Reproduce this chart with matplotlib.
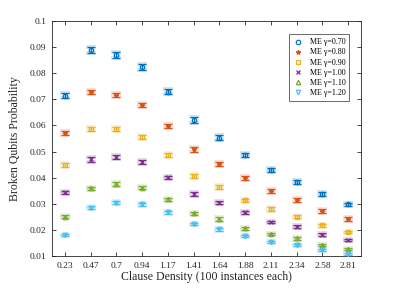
import matplotlib
matplotlib.use("Agg")
import matplotlib.pyplot as plt
from matplotlib.lines import Line2D
import numpy as np

plt.rcParams['font.family'] = ['Liberation Serif', 'DejaVu Serif']
plt.rcParams['mathtext.fontset'] = 'stix'

categories = ["0.23", "0.47", "0.7", "0.94", "1.17", "1.41", "1.64", "1.88", "2.11", "2.34", "2.58", "2.81"]
labels = ["ME γ=0.70", "ME γ=0.80", "ME γ=0.90", "ME γ=1.00", "ME γ=1.10", "ME γ=1.20"]

g070 = [0.0714, 0.0889, 0.0870, 0.0825, 0.0729, 0.0621, 0.0553, 0.0487, 0.0429, 0.0385, 0.0337, 0.0298]
g080 = [0.0570, 0.0729, 0.0717, 0.0678, 0.0598, 0.0508, 0.0451, 0.0398, 0.0349, 0.0314, 0.0272, 0.0242]
g090 = [0.0449, 0.0585, 0.0585, 0.0555, 0.0487, 0.0406, 0.0365, 0.0314, 0.0280, 0.0251, 0.0218, 0.0192]
g100 = [0.0344, 0.0470, 0.0480, 0.0459, 0.0401, 0.0337, 0.0304, 0.0267, 0.0231, 0.0212, 0.0182, 0.0161]
g110 = [0.0251, 0.0359, 0.0375, 0.0362, 0.0318, 0.0263, 0.0242, 0.0206, 0.0184, 0.0168, 0.0142, 0.0126]
g120 = [0.0180, 0.0285, 0.0304, 0.0299, 0.0267, 0.0223, 0.0202, 0.0177, 0.0155, 0.0142, 0.0123, 0.0108]

e070 = [0.0010, 0.0012, 0.0012, 0.0012, 0.0010, 0.0010, 0.0009, 0.0009, 0.0008, 0.0008, 0.0008, 0.0007]
e080 = [0.0008, 0.0008, 0.0009, 0.0009, 0.0008, 0.0008, 0.0008, 0.0007, 0.0007, 0.0007, 0.0007, 0.0006]
e090 = [0.0007, 0.0008, 0.0008, 0.0008, 0.0007, 0.0007, 0.0007, 0.0006, 0.0006, 0.0006, 0.0006, 0.0005]
e100 = [0.0006, 0.0008, 0.0008, 0.0008, 0.0007, 0.0007, 0.0006, 0.0006, 0.0005, 0.0005, 0.0005, 0.0005]
e110 = [0.0005, 0.0007, 0.0007, 0.0007, 0.0006, 0.0006, 0.0006, 0.0005, 0.0005, 0.0005, 0.0004, 0.0004]
e120 = [0.0005, 0.0006, 0.0006, 0.0006, 0.0005, 0.0005, 0.0005, 0.0005, 0.0004, 0.0004, 0.0004, 0.0004]

series = [g070, g080, g090, g100, g110, g120]
errs = [e070, e080, e090, e100, e110, e120]
colors = ["#0072BD", "#D95319", "#EDB120", "#7E2F8E", "#77AC30", "#4DBEEE"]
markers = ["o", "*", "s", "x", "^", "v"]

fig = plt.figure(figsize=(3.99, 2.88), dpi=100)
ax = fig.add_axes([0.130, 0.111, 0.775, 0.816])

x = np.arange(1, len(categories) + 1)
handles = []
for y, e, c, m, lab in zip(series, errs, colors, markers, labels):
    fc = c if m in ('*', 'x') else 'none'
    ax.errorbar(x, y, yerr=e, fmt='none', ecolor=c, elinewidth=2.8, capsize=3.5,
                capthick=2.8, alpha=0.18, zorder=2)
    ax.errorbar(x, y, yerr=e, fmt=m, color=c, ecolor=c, elinewidth=0.9, capsize=3,
                capthick=0.9, markersize=3.2, markerfacecolor=fc,
                markeredgewidth=0.9, zorder=3)
    handles.append(Line2D([], [], linestyle='none', marker=m, color=c, markersize=3.2,
                          markerfacecolor=fc, markeredgewidth=0.9, label=lab))

ax.set_xlim(0.5, 12.5)
ax.set_ylim(0.01, 0.1)
ax.set_xticks(x)
ax.set_xticklabels(categories)
ax.set_yticks(np.arange(0.01, 0.1001, 0.01))
ax.set_yticklabels(["0.01", "0.02", "0.03", "0.04", "0.05", "0.06", "0.07", "0.08", "0.09", "0.1"])
ax.tick_params(direction='in', top=True, right=True, length=3, width=0.6,
               labelsize=6.8, colors='#262626', pad=4)
for s in ax.spines.values():
    s.set_linewidth(0.6)
    s.set_color('#262626')

ax.set_xlabel("Clause Density (100 instances each)", fontsize=8.5, color='#262626', labelpad=1)
ax.set_ylabel("Broken Qubits Probability", fontsize=8.5, color='#262626', labelpad=6)

leg = ax.legend(handles=handles, loc='upper right', fontsize=5.8, frameon=True, fancybox=False,
                edgecolor='#262626', handlelength=1.2, borderpad=0.5, labelspacing=0.25,
                handletextpad=0.8, bbox_to_anchor=(0.975, 0.96))
leg.get_frame().set_linewidth(0.6)

fig.savefig("out.png", dpi=100)
